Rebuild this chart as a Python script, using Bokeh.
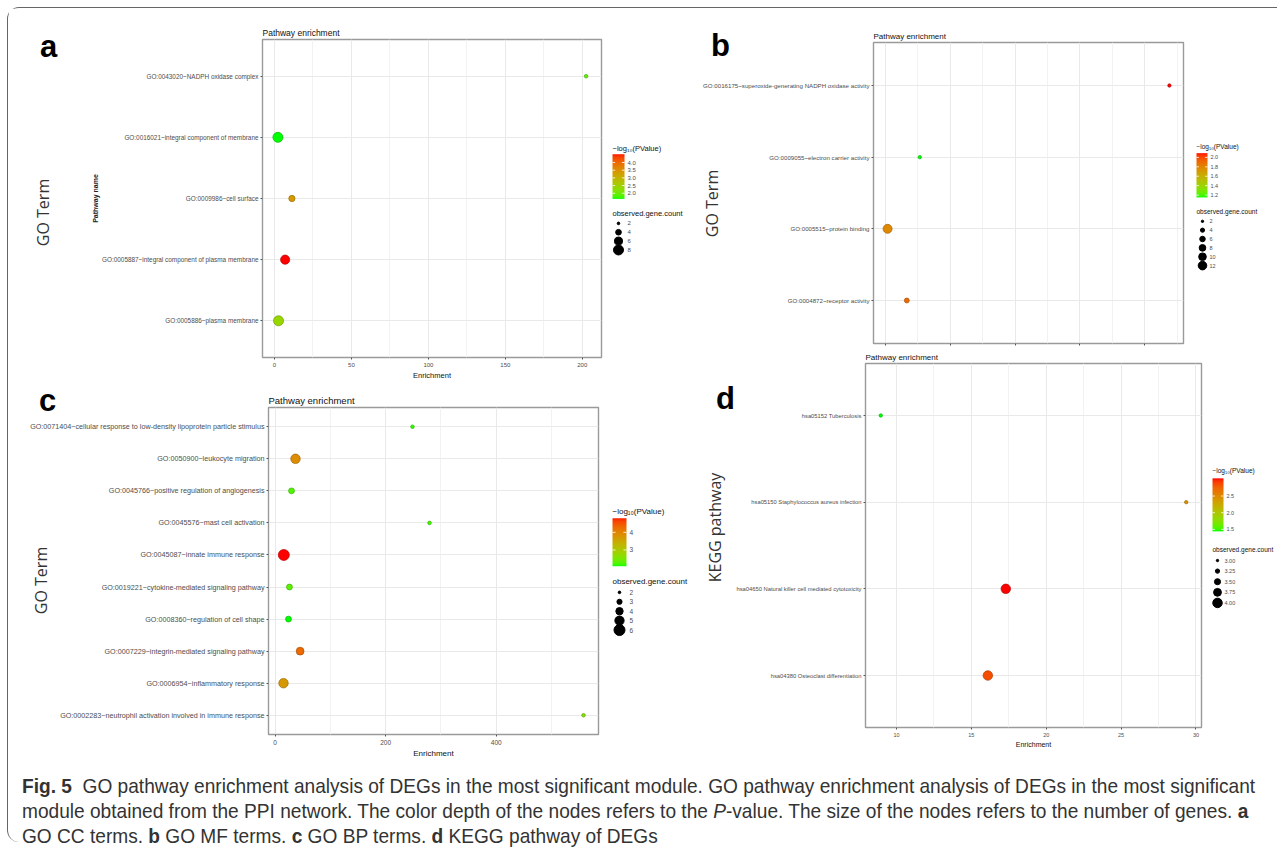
import math
import numpy as np
from bokeh.plotting import figure
from bokeh.models import (FactorRange, Range1d, LinearColorMapper, FixedTicker,
                          Label, Div, ColumnDataSource, GridBox)
from bokeh.layouts import row, column
from bokeh.transform import transform
from bokeh.core.properties import value
from bokeh.embed import file_html
from bokeh.resources import INLINE

# ------------------------------------------------------------------ data
# (a) GO CC terms  (listed bottom -> top)
cc_terms = ["GO:0005886~plasma membrane",
            "GO:0005887~integral component of plasma membrane",
            "GO:0009986~cell surface",
            "GO:0016021~integral component of membrane",
            "GO:0043020~NADPH oxidase complex"]
cc_enrichment = [2.6, 6.9, 11.3, 2.2, 202.5]
cc_logp = [2.35, 4.54, 3.35, 1.63, 1.9]
cc_count = [8, 7, 4, 8, 2]
cc_x_ticks = [0, 50, 100, 150, 200]
cc_x_minor = [25, 75, 125, 175]
cc_color_ticks = [2.0, 2.5, 3.0, 3.5, 4.0]
cc_size_breaks = [2, 4, 6, 8]

# (b) GO MF terms
mf_terms = ["GO:0004872~receptor activity",
            "GO:0005515~protein binding",
            "GO:0009055~electron carrier activity",
            "GO:0016175~superoxide-generating NADPH oxidase activity"]
mf_enrichment = [16.6, 1.8, 26.6, 219.0]
mf_logp = [1.9, 1.78, 1.15, 2.09]
mf_count = [4, 13, 2, 2]
mf_x_ticks = [0, 50, 100, 150, 200]
mf_x_minor = [25, 75, 125, 175, 225]
mf_color_ticks = [1.2, 1.4, 1.6, 1.8, 2.0]
mf_size_breaks = [2, 4, 6, 8, 10, 12]

# (c) GO BP terms
bp_terms = ["GO:0002283~neutrophil activation involved in immune response",
            "GO:0006954~inflammatory response",
            "GO:0007229~integrin-mediated signaling pathway",
            "GO:0008360~regulation of cell shape",
            "GO:0019221~cytokine-mediated signaling pathway",
            "GO:0045087~innate immune response",
            "GO:0045576~mast cell activation",
            "GO:0045766~positive regulation of angiogenesis",
            "GO:0050900~leukocyte migration",
            "GO:0071404~cellular response to low-density lipoprotein particle stimulus"]
bp_enrichment = [558.0, 15.1, 45.2, 24.1, 25.9, 15.7, 279.3, 29.6, 36.8, 248.5]
bp_logp = [2.6, 3.7, 4.25, 2.08, 2.3, 4.8, 2.2, 2.25, 3.85, 2.15]
bp_count = [2, 5, 4, 3, 3, 6, 2, 3, 5, 2]
bp_x_ticks = [0, 200, 400]
bp_x_minor = [100, 300, 500]
bp_color_ticks = [3, 4]
bp_size_breaks = [2, 3, 4, 5, 6]

# (d) KEGG pathways
kegg_terms = ["hsa04380 Osteoclast differentiation",
              "hsa04650 Natural killer cell mediated cytotoxicity",
              "hsa05150 Staphylococcus aureus infection",
              "hsa05152 Tuberculosis"]
kegg_enrichment = [16.1, 17.3, 29.35, 8.95]
kegg_logp = [2.85, 3.03, 2.45, 1.44]
kegg_count = [4, 4, 3, 3]
kegg_x_ticks = [10, 15, 20, 25, 30]
kegg_x_minor = [12.5, 17.5, 22.5, 27.5]
kegg_color_ticks = [1.5, 2.0, 2.5]
kegg_size_breaks = [3.0, 3.25, 3.5, 3.75, 4.0]

panel_letters = ["a", "b", "c", "d"]
panel_axis_names = ["GO Term", "GO Term", "GO Term", "KEGG pathway"]

# ------------------------------------------------------------------ style
FONT = "Liberation Sans"
BIG = "Open Sans"
PAGE_X0, PAGE_Y0, PAGE_W, PAGE_H = 8, 8, 1269, 752


def _lin(c):
    c = c / 255.0
    return c / 12.92 if c <= 0.04045 else ((c + 0.055) / 1.055) ** 2.4


def _rgb2lab(r, g, b):
    R, G, B = _lin(r), _lin(g), _lin(b)
    X = 0.4124564 * R + 0.3575761 * G + 0.1804375 * B
    Y = 0.2126729 * R + 0.7151522 * G + 0.0721750 * B
    Z = 0.0193339 * R + 0.1191920 * G + 0.9503041 * B
    d = 6 / 29

    def f(t):
        return t ** (1 / 3) if t > d ** 3 else t / (3 * d * d) + 4 / 29
    fx, fy, fz = f(X / 0.95047), f(Y), f(Z / 1.08883)
    return 116 * fy - 16, 500 * (fx - fy), 200 * (fy - fz)


def _lab2rgb(L, a, b):
    d = 6 / 29
    fy = (L + 16) / 116
    fx = fy + a / 500
    fz = fy - b / 200

    def finv(t):
        return t ** 3 if t > d else 3 * d * d * (t - 4 / 29)
    X, Y, Z = 0.95047 * finv(fx), finv(fy), 1.08883 * finv(fz)
    R = 3.2404542 * X - 1.5371385 * Y - 0.4985314 * Z
    G = -0.9692660 * X + 1.8760108 * Y + 0.0415560 * Z
    B = 0.0556434 * X - 0.2040259 * Y + 1.0572252 * Z

    def g(c):
        c = min(max(c, 0.0), 1.0)
        c = 12.92 * c if c <= 0.0031308 else 1.055 * c ** (1 / 2.4) - 0.055
        return c * 255
    return g(R), g(G), g(B)


def lab_palette(n=256, shade=1.0):
    lo = _rgb2lab(0, 255, 0)
    hi = _rgb2lab(255, 0, 0)
    out = []
    for i in range(n):
        rgb = _lab2rgb(*[lo[k] + (hi[k] - lo[k]) * (i / (n - 1)) for k in range(3)])
        out.append("#%02x%02x%02x" % tuple(int(round(c * shade)) for c in rgb))
    return out


PALETTE = lab_palette()
PALETTE_EDGE = lab_palette(shade=0.72)


def size_px(v, lo, hi, dmin, dmax):
    return dmin + (dmax - dmin) * (math.sqrt(v) - math.sqrt(lo)) / (math.sqrt(hi) - math.sqrt(lo))


def make_panel(terms, enrich, logp, counts, xt, xm, cticks, cfmt, breaks, bfmt, cfg):
    x0, y0, w, h = cfg["box"]
    L, R, T, B = cfg["frame"]
    lo, hi = min(enrich), max(enrich)
    pad = 0.05 * (hi - lo)
    p = figure(width=w, height=h, x_range=Range1d(lo - pad, hi + pad),
               y_range=FactorRange(factors=terms, range_padding=0.1, range_padding_units="absolute"),
               output_backend="svg", toolbar_location=None,
               min_border_left=L - x0, min_border_right=x0 + w - R,
               min_border_top=T - y0, min_border_bottom=y0 + h - B)
    p.background_fill_color = "white"
    p.border_fill_color = "white"
    p.outline_line_color = "#9a9a9a"
    p.outline_line_width = 1.4

    cmin, cmax = min(counts), max(counts)
    dmin, dmax = cfg["dot"]
    mapper = LinearColorMapper(palette=PALETTE, low=min(logp), high=max(logp))
    edge = LinearColorMapper(palette=PALETTE_EDGE, low=min(logp), high=max(logp))
    src = ColumnDataSource(dict(term=terms, enrich=enrich, logp=logp, count=counts,
                                size=[size_px(c, cmin, cmax, dmin, dmax) for c in counts]))
    p.scatter("enrich", "term", size="size", source=src,
              fill_color=transform("logp", mapper), line_color=transform("logp", edge),
              line_width=0.7)

    p.xaxis.ticker = FixedTicker(ticks=xt, minor_ticks=xm)
    p.xaxis.axis_line_color = None
    p.yaxis.axis_line_color = None
    for ax in (p.xaxis[0], p.yaxis[0]):
        ax.major_tick_line_color = "#555555"
        ax.major_tick_out = 2
        ax.major_tick_in = 0
        ax.minor_tick_line_color = None
        ax.major_label_text_font = FONT
        ax.major_label_text_color = "#4d4d4d"
        ax.major_label_standoff = 1
        ax.axis_label_text_font = FONT
        ax.axis_label_text_font_style = "normal"
        ax.axis_label_text_color = "#111111"
        ax.axis_label_standoff = 1
    p.yaxis.major_label_standoff = 2
    p.yaxis.major_label_text_font_size = cfg["ylab"]
    p.xaxis.major_label_text_font_size = cfg["xtick"]
    if cfg.get("hide_x"):
        p.xaxis.major_label_text_alpha = 0
        p.xaxis.major_label_standoff = 0
    else:
        p.xaxis.axis_label = "Enrichment"
        p.xaxis.axis_label_text_font_size = cfg["xtitle"]
    if cfg.get("ytitle"):
        p.yaxis.axis_label = cfg["ytitle"]
        p.yaxis.axis_label_text_font_size = "7px"
        p.yaxis.axis_label_text_font_style = "bold"
        p.yaxis.axis_label_text_color = "#222222"
        p.yaxis.axis_label_standoff = 0
    p.xgrid.grid_line_color = "#e9e9e9"
    p.xgrid.minor_grid_line_color = "#f2f2f2"
    p.ygrid.grid_line_color = "#e9e9e9"

    p.title.text = "Pathway enrichment"
    p.title.text_font = FONT
    p.title.text_font_size = cfg["title"]
    p.title.text_font_style = "normal"
    p.title.text_color = "#111111"
    p.title.align = "left"
    p.title.standoff = 4
    p.title.offset = 0

    # ---------------- legend figure (data units = pixels from its bottom-left)
    lx0, lw = cfg["lbox"]
    lg = figure(width=lw, height=h, x_range=Range1d(0, lw), y_range=Range1d(0, h),
                x_axis_type=None, y_axis_type=None, min_border=0,
                output_backend="svg", toolbar_location=None)
    lg.outline_line_color = None
    lg.background_fill_color = "white"
    lg.border_fill_color = "white"

    def gx(v):
        return v - lx0

    def gy(v):
        return h - (v - y0)

    bL, bw, bT, bB = cfg["bar"]
    vlo, vhi = mapper.low, mapper.high
    grad = np.linspace(vlo, vhi, 200).reshape(200, 1)
    lg.image(image=[grad], x=gx(bL), y=gy(bB), dw=bw, dh=bB - bT, color_mapper=mapper)
    tys = [gy(bB) + (t - vlo) / (vhi - vlo) * (bB - bT) for t in cticks]
    tl = bw * 0.22
    lg.segment(x0=[gx(bL)] * len(cticks), y0=tys, x1=[gx(bL) + tl] * len(cticks), y1=tys,
               line_color="white", line_width=0.8)
    lg.segment(x0=[gx(bL + bw) - tl] * len(cticks), y0=tys, x1=[gx(bL + bw)] * len(cticks), y1=tys,
               line_color="white", line_width=0.8)
    lg.text(x=[gx(bL + bw) + 3] * len(cticks), y=tys, text=[cfmt % t for t in cticks],
            text_font=value(FONT), text_font_size=value(cfg["llab"]), text_color="#4d4d4d",
            text_align="left", text_baseline="middle")
    ctx, cty = cfg["ctitle"]
    lg.add_layout(Label(x=gx(ctx), y=gy(cty), text="\u2212log\u2081\u2080(PValue)",
                        text_font=FONT, text_font_size=cfg["ltitle"], text_color="#111111",
                        text_align="left", text_baseline="middle"))

    sx, sy = cfg["stitle"]
    lg.add_layout(Label(x=gx(sx), y=gy(sy), text="observed.gene.count",
                        text_font=FONT, text_font_size=cfg["ltitle"], text_color="#111111",
                        text_align="left", text_baseline="middle"))
    cx, first, step, tx = cfg["items"]
    ys = [gy(first + i * step) for i in range(len(breaks))]
    lg.scatter(x=[gx(cx)] * len(breaks), y=ys,
               size=[size_px(b, cmin, cmax, dmin - 1, dmax) for b in breaks],
               color="black")
    lg.text(x=[gx(tx)] * len(breaks), y=ys, text=[bfmt % b for b in breaks],
            text_font=value(FONT), text_font_size=value(cfg["llab"]), text_color="#4d4d4d",
            text_align="left", text_baseline="middle")
    return row(p, lg)


cfg_a = dict(box=(8, 8, 596, 377), frame=(262, 601, 39, 357), dot=(3.6, 10),
             ylab="6.4px", xtick="6px", xtitle="7.5px", title="8.5px", ytitle="Pathway name",
             lbox=(604, 96), bar=(612, 12, 144, 197), ctitle=(612, 137), ltitle="7.5px", llab="6px",
             stitle=(612, 214), items=(618, 226, 10.5, 627),
             letter=(48, 46), big=(42, 212))
cfg_c = dict(box=(8, 385, 594, 375), frame=(268, 598, 407, 737), dot=(3.6, 11),
             ylab="7.2px", xtick="6.5px", xtitle="8px", title="9.5px",
             lbox=(602, 98), bar=(612, 14, 512, 567), ctitle=(612, 504), ltitle="8px", llab="6.5px",
             stitle=(612, 585), items=(619, 597, 10.8, 629),
             letter=(47, 400), big=(40, 580))
cfg_b = dict(box=(700, 8, 487, 340), frame=(866, 1183, 42, 343), dot=(3.4, 9),
             ylab="6.15px", xtick="6px", title="8px", hide_x=True,
             lbox=(1187, 90), bar=(1196, 11, 133, 183), ctitle=(1196, 125), ltitle="6.5px", llab="5.5px",
             stitle=(1196, 199), items=(1202, 210, 10, 1209),
             letter=(720, 45), big=(711, 203))
cfg_d = dict(box=(700, 348, 505, 412), frame=(865, 1201, 363, 727), dot=(3.4, 9.5),
             ylab="5.8px", xtick="5.5px", xtitle="7px", title="8px",
             lbox=(1205, 72), bar=(1212, 11, 478, 538), ctitle=(1212, 469), ltitle="6.5px", llab="5.5px",
             stitle=(1212, 558), items=(1217, 571, 12, 1224),
             letter=(725, 398), big=(714, 527))

pa = make_panel(cc_terms, cc_enrichment, cc_logp, cc_count, cc_x_ticks, cc_x_minor,
                cc_color_ticks, "%.1f", cc_size_breaks, "%d", cfg_a)
pb = make_panel(mf_terms, mf_enrichment, mf_logp, mf_count, mf_x_ticks, mf_x_minor,
                mf_color_ticks, "%.1f", mf_size_breaks, "%d", cfg_b)
pc = make_panel(bp_terms, bp_enrichment, bp_logp, bp_count, bp_x_ticks, bp_x_minor,
                bp_color_ticks, "%d", bp_size_breaks, "%d", cfg_c)
pd_ = make_panel(kegg_terms, kegg_enrichment, kegg_logp, kegg_count, kegg_x_ticks, kegg_x_minor,
                 kegg_color_ticks, "%.1f", kegg_size_breaks, "%.2f", cfg_d)

content = row(column(pa, pc, spacing=0), column(pb, pd_, spacing=0), spacing=0)

# transparent overlay carrying the panel letters and the large axis names
ov = figure(width=PAGE_W, height=PAGE_H, x_range=Range1d(0, PAGE_W), y_range=Range1d(0, PAGE_H),
            x_axis_type=None, y_axis_type=None, min_border=0,
            output_backend="svg", toolbar_location=None)
ov.outline_line_color = None
ov.background_fill_color = None
ov.border_fill_color = None
for letter, name, cfg in zip(panel_letters, panel_axis_names, [cfg_a, cfg_b, cfg_c, cfg_d]):
    lx, ly = cfg["letter"]
    ov.add_layout(Label(x=lx - PAGE_X0, y=PAGE_Y0 + PAGE_H - ly, text=letter,
                        text_font=FONT, text_font_style="bold", text_font_size="31px",
                        text_color="#000000", text_align="center", text_baseline="middle"))
    bx, by = cfg["big"]
    ov.add_layout(Label(x=bx - PAGE_X0, y=PAGE_Y0 + PAGE_H - by, text=name,
                        text_font=BIG, text_font_size="16px", text_color="#333333",
                        angle=math.pi / 2, text_align="center", text_baseline="middle"))

grid = GridBox(children=[(content, 0, 0), (ov, 0, 0)], spacing=0)

caption_html = (
    "<div style=\"padding:13px 0 0 14px;\">"
    "<div style=\"font-family:'Liberation Sans',sans-serif;font-size:21px;line-height:25px;"
    "color:#333;white-space:nowrap;transform:scaleX(0.91);transform-origin:0 0;\">"
    "<b>Fig. 5</b>&nbsp; GO pathway enrichment analysis of DEGs in the most significant module. "
    "GO pathway enrichment analysis of DEGs in the most significant<br>"
    "module obtained from the PPI network. The color depth of the nodes refers to the "
    "<i>P</i>-value. The size of the nodes refers to the number of genes. <b>a</b><br>"
    "GO CC terms. <b>b</b> GO MF terms. <b>c</b> GO BP terms. <b>d</b> KEGG pathway of DEGs"
    "</div></div>")
cap = Div(text=caption_html, width=PAGE_W, height=82, margin=(0, 0, 0, 0))

page = column(grid, cap, spacing=0, margin=(7, 0, 0, 7),
              styles={"border-left": "1px solid #666", "border-top": "1px solid #666",
                      "border-top-left-radius": "12px", "border-bottom-left-radius": "12px"})

open("out.html", "w").write(file_html(page, INLINE))
